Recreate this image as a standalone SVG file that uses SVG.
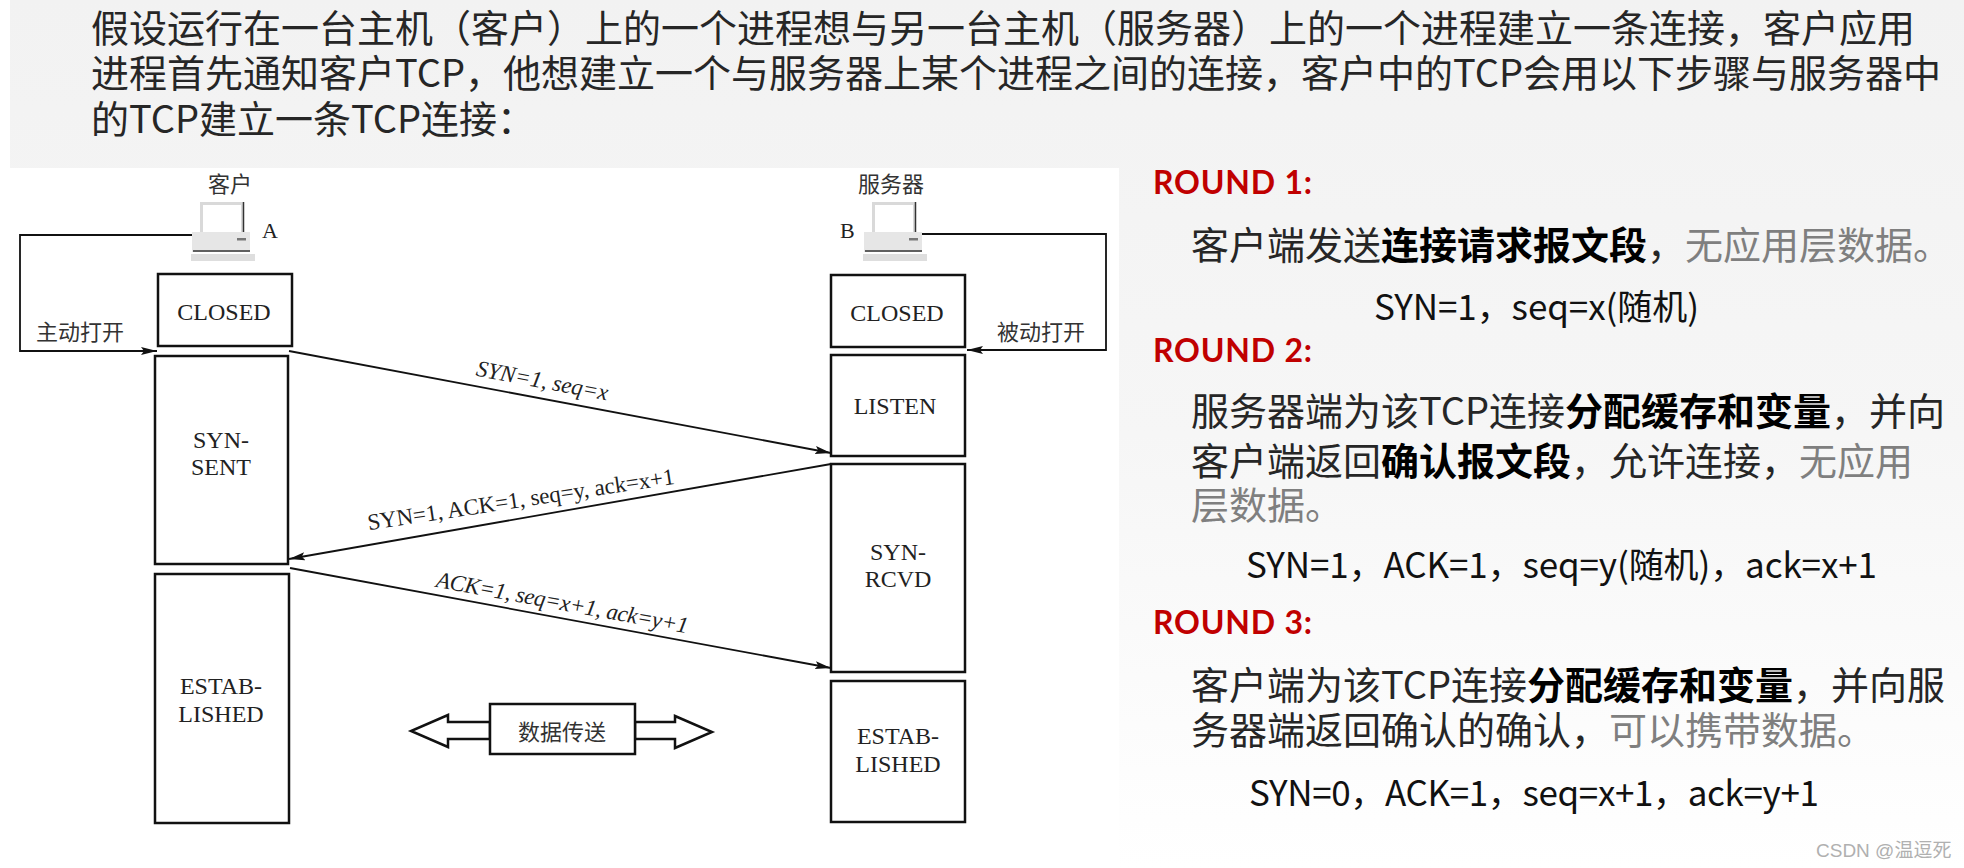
<svg xmlns="http://www.w3.org/2000/svg" width="1964" height="868" viewBox="0 0 1964 868">
<defs>
<linearGradient id="bg" x1="0" y1="0" x2="0" y2="1">
<stop offset="0" stop-color="#f2f2f2"/>
<stop offset="0.5" stop-color="#f6f6f6"/>
<stop offset="1" stop-color="#ffffff"/>
</linearGradient>
<marker id="ah" markerUnits="userSpaceOnUse" markerWidth="18" markerHeight="10" refX="16" refY="5" orient="auto">
<path d="M0,1 L16,5 L0,9 L3,5 z" fill="#111"/>
</marker>
<g id="pc">
<rect x="200" y="202" width="44" height="30" fill="#d9d9d9"/>
<rect x="203" y="205" width="38" height="27" fill="#ffffff"/>
<line x1="243.5" y1="202" x2="243.5" y2="232" stroke="#333" stroke-width="1.5"/>
<rect x="192" y="232" width="58" height="20" fill="#e6e6e6"/>
<rect x="237" y="238" width="9" height="2.5" fill="#777"/>
<line x1="193" y1="251" x2="250" y2="251" stroke="#333" stroke-width="1.5"/>
<rect x="191" y="254" width="64" height="7" fill="#dedede"/>
</g>
</defs>
<style>
.top{font-family:"Noto Sans CJK SC",sans-serif;font-size:38px;fill:#262626}
.round{font-family:Lato,"Noto Sans CJK SC",sans-serif;font-weight:bold;font-size:32px;fill:#c00000}
.cn{font-family:"Noto Sans CJK SC",sans-serif;font-size:38px;fill:#262626}
.b{font-weight:bold;fill:#000}
.g{fill:#7f7f7f}
.f{font-family:"Noto Sans CJK SC",sans-serif;font-size:35px;fill:#111}
.st{font-family:"Liberation Serif",serif;font-size:24px;fill:#222;text-anchor:middle}
.lb{font-family:"Liberation Serif",serif;font-size:23px;fill:#222;text-anchor:middle}
.zh{font-family:"Noto Sans CJK SC",sans-serif;font-size:22px;fill:#333}
.ltr{font-family:"Liberation Serif",serif;font-size:22px;fill:#222}
.box{fill:#fff;stroke:#111;stroke-width:2.5}
.conn{stroke:#111;stroke-width:1.8;fill:none}
.wm{font-family:"Liberation Sans","Noto Sans CJK SC",sans-serif;font-size:19px;fill:#b0b0b0}
</style>

<rect x="10" y="0" width="1954" height="868" fill="url(#bg)"/>
<rect x="10" y="168" width="1109" height="700" fill="#ffffff"/>

<g id="intro">
<text class="top" x="91" y="42">假设运行在一台主机（客户）上的一个进程想与另一台主机（服务器）上的一个进程建立一条连接，客户应用</text>
<text class="top" x="91" y="87">进程首先通知客户TCP，他想建立一个与服务器上某个进程之间的连接，客户中的TCP会用以下步骤与服务器中</text>
<text class="top" x="91" y="133">的TCP建立一条TCP连接：</text>
</g>

<g id="host-a">
<use href="#pc"/>
<text class="zh" x="208" y="192">客户</text>
<text class="ltr" x="262" y="238">A</text>
</g>
<g id="host-b">
<use href="#pc" transform="translate(672,0)"/>
<text class="zh" x="858" y="192">服务器</text>
<text class="ltr" x="840" y="238">B</text>
</g>

<g id="a-closed"><rect class="box" x="158" y="274" width="134" height="72"/><text class="st" x="224" y="320">CLOSED</text></g>
<g id="a-synsent"><rect class="box" x="155" y="356" width="133" height="208"/><text class="st" x="221" y="448">SYN-</text><text class="st" x="221" y="475">SENT</text></g>
<g id="a-established"><rect class="box" x="155" y="574" width="134" height="249"/><text class="st" x="221" y="694">ESTAB-</text><text class="st" x="221" y="722">LISHED</text></g>

<g id="b-closed"><rect class="box" x="831" y="275" width="134" height="72"/><text class="st" x="897" y="321">CLOSED</text></g>
<g id="b-listen"><rect class="box" x="831" y="355" width="134" height="101"/><text class="st" x="895" y="414">LISTEN</text></g>
<g id="b-synrcvd"><rect class="box" x="831" y="464" width="134" height="208"/><text class="st" x="898" y="560">SYN-</text><text class="st" x="898" y="587">RCVD</text></g>
<g id="b-established"><rect class="box" x="831" y="681" width="134" height="141"/><text class="st" x="898" y="744">ESTAB-</text><text class="st" x="898" y="772">LISHED</text></g>

<g id="data-transfer">
<polygon points="490,722 448,722 448,715 411,731 448,747 448,739 490,739" fill="#fff" stroke="#111" stroke-width="2.5" stroke-linejoin="miter"/>
<polygon points="635,722 675,722 675,716 712,732 675,748 675,739 635,739" fill="#fff" stroke="#111" stroke-width="2.5" stroke-linejoin="miter"/>
<rect class="box" x="490" y="704" width="145" height="50"/>
<text class="zh" x="562" y="740" text-anchor="middle">数据传送</text>
</g>

<g id="connectors">
<polyline class="conn" points="192,235 20,235 20,351 157,351" marker-end="url(#ah)"/>
<text class="zh" x="36" y="340">主动打开</text>
<polyline class="conn" points="922,234 1106,234 1106,350 967,350" marker-end="url(#ah)"/>
<text class="zh" x="997" y="340">被动打开</text>
<line class="conn" x1="289" y1="351" x2="831" y2="453" marker-end="url(#ah)"/>
<text class="lb" font-style="italic" textLength="134" transform="translate(541,388) rotate(10.66)">SYN=1, seq=x</text>
<line class="conn" x1="831" y1="464" x2="289" y2="559" marker-end="url(#ah)"/>
<text class="lb" textLength="310" transform="translate(522,507) rotate(-8.6)">SYN=1, ACK=1, seq=y, ack=x+1</text>
<line class="conn" x1="290" y1="568" x2="831" y2="668" marker-end="url(#ah)"/>
<text class="lb" font-style="italic" textLength="256" transform="translate(561,610) rotate(10.47)">ACK=1, seq=x+1, ack=y+1</text>
</g>

<g id="round1">
<text class="round" x="1153" y="194" textLength="159">ROUND 1:</text>
<text class="cn" x="1191" y="259">客户端发送<tspan class="b">连接请求报文段</tspan>，<tspan class="g">无应用层数据。</tspan></text>
<text class="f" x="1374" y="320" textLength="325">SYN=1，seq=x(随机)</text>
</g>
<g id="round2">
<text class="round" x="1153" y="362" textLength="159">ROUND 2:</text>
<text class="cn" x="1191" y="425">服务器端为该TCP连接<tspan class="b">分配缓存和变量</tspan>，并向</text>
<text class="cn" x="1191" y="475">客户端返回<tspan class="b">确认报文段</tspan>，允许连接，<tspan class="g">无应用</tspan></text>
<text class="cn g" x="1191" y="519">层数据。</text>
<text class="f" x="1246" y="578" textLength="631">SYN=1，ACK=1，seq=y(随机)，ack=x+1</text>
</g>
<g id="round3">
<text class="round" x="1153" y="634" textLength="159">ROUND 3:</text>
<text class="cn" x="1191" y="699">客户端为该TCP连接<tspan class="b">分配缓存和变量</tspan>，并向服</text>
<text class="cn" x="1191" y="744">务器端返回确认的确认，<tspan class="g">可以携带数据。</tspan></text>
<text class="f" x="1249" y="806" textLength="570">SYN=0，ACK=1，seq=x+1，ack=y+1</text>
</g>
<text class="wm" x="1816" y="857">CSDN @温逗死</text>
</svg>
